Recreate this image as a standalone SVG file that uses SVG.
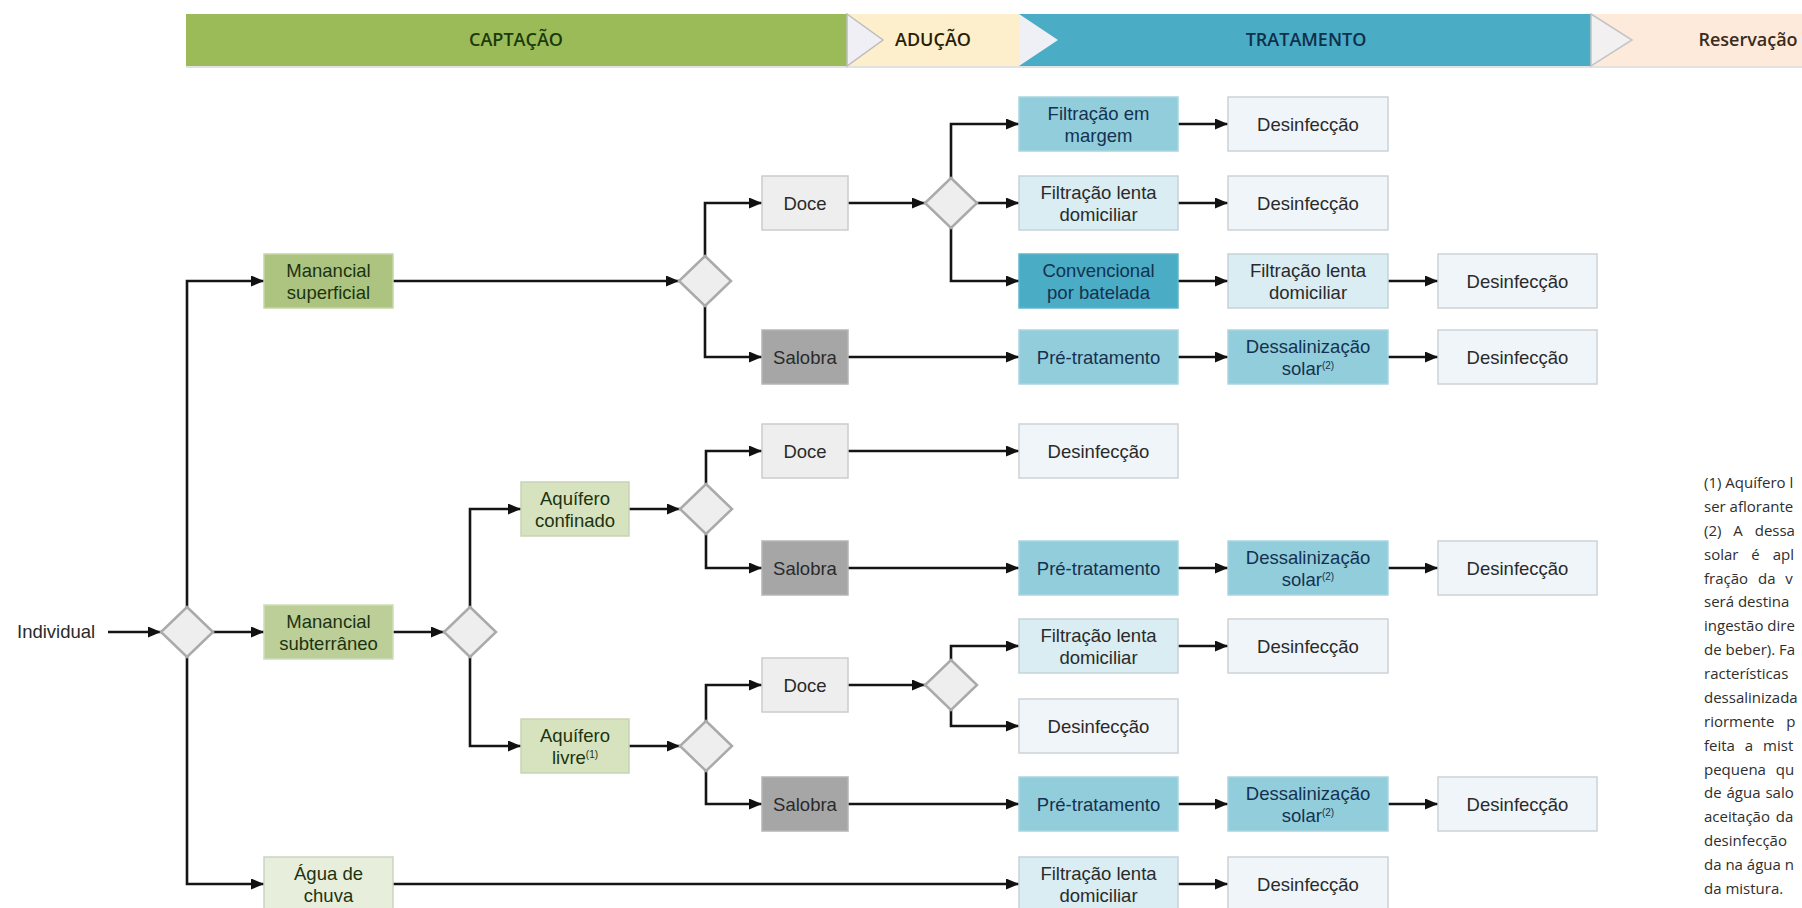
<svg xmlns="http://www.w3.org/2000/svg" width="1802" height="908" viewBox="0 0 1802 908">
<defs>
<marker id="ah" markerWidth="13" markerHeight="11" refX="13" refY="5.5" orient="auto" markerUnits="userSpaceOnUse">
<path d="M0,0 L13,5.5 L0,11 z" fill="#111"/>
</marker>
<style>
text{font-family:"Open Sans","Liberation Sans",sans-serif;}
.hd{font-size:18px;font-weight:600;text-anchor:middle;}
.t{font-family:"Liberation Sans",Arial,sans-serif;font-size:18.5px;text-anchor:middle;fill:#2a2a2a;}
.tg{fill:#1c3310;}
.tb{fill:#14324f;}
.g1{fill:#acc47f;stroke:#c6d6a6;stroke-width:1.5;}
.g2{fill:#bccf99;stroke:#d0ddb9;stroke-width:1.5;}
.g3{fill:#d6e3be;stroke:#c9d3b6;stroke-width:1.5;}
.g4{fill:#e7efdc;stroke:#ccd3c3;stroke-width:1.5;}
.doce{fill:#eeeeee;stroke:#cccccc;stroke-width:1.5;}
.sal{fill:#a6a6a6;stroke:#b5b5b5;stroke-width:1.5;}
.b1{fill:#92cddc;stroke:#a9d5e0;stroke-width:1.5;}
.b2{fill:#d9edf3;stroke:#c3d3da;stroke-width:1.5;}
.b3{fill:#4bacc6;stroke:#62b5cc;stroke-width:1.5;}
.des{fill:#f0f5f9;stroke:#cdd2d6;stroke-width:1.5;}
.dia{fill:#eeeeee;stroke:#aaaaaa;stroke-width:2.5;}
.c{fill:none;stroke:#151515;stroke-width:2.6;marker-end:url(#ah);}
.sup{font-size:10px;}
.fn{font-size:15px;fill:#2e2e2e;}
</style>
</defs>
<rect width="1802" height="908" fill="#ffffff"/>

<g id="header">
<rect x="186" y="16" width="1616" height="52" fill="#e2e2e2"/>
<rect x="186" y="14" width="661" height="52" fill="#9bbb59"/>
<rect x="847" y="14" width="172" height="52" fill="#fdefcc"/>
<polygon points="847,14 883,40 847,66" fill="#efeff5" stroke="#bdbdbd" stroke-width="1.5"/>
<rect x="1019" y="14" width="572" height="52" fill="#4bacc6"/>
<polygon points="1019,14 1058,40 1019,66" fill="#eef0f6"/>
<rect x="1591" y="14" width="211" height="52" fill="#fdeadb"/>
<polygon points="1591,14 1632,40 1591,66" fill="#f3f0f2" stroke="#c4c4c4" stroke-width="1.5"/>
<text class="hd" x="516" y="46" fill="#1b3a0c">CAPTAÇÃO</text>
<text class="hd" x="933" y="46" fill="#2b1d05">ADUÇÃO</text>
<text class="hd" x="1306" y="46" fill="#0f2f4a">TRATAMENTO</text>
<text class="hd" x="1748" y="46" fill="#3a2a20" font-weight="500">Reservação</text>
</g>

<g id="connectors">
<path class="c" d="M108,632 H161"/>
<path class="c" d="M187,607 V281 H264"/>
<path class="c" d="M213,632 H264"/>
<path class="c" d="M187,657 V884 H264"/>
<path class="c" d="M393,281 H679"/>
<path class="c" d="M705,256 V203 H762"/>
<path class="c" d="M705,306 V357 H762"/>
<path class="c" d="M848,203 H925"/>
<path class="c" d="M951,178 V124 H1019"/>
<path class="c" d="M977,203 H1019"/>
<path class="c" d="M951,228 V281 H1019"/>
<path class="c" d="M848,357 H1019"/>
<path class="c" d="M1178,124 H1228"/>
<path class="c" d="M1178,203 H1228"/>
<path class="c" d="M1178,281 H1228"/>
<path class="c" d="M1388,281 H1438"/>
<path class="c" d="M1178,357 H1228"/>
<path class="c" d="M1388,357 H1438"/>
<path class="c" d="M393,632 H444"/>
<path class="c" d="M470,607 V509 H521"/>
<path class="c" d="M470,657 V746 H521"/>
<path class="c" d="M629,509 H680"/>
<path class="c" d="M706,484 V451 H762"/>
<path class="c" d="M706,534 V568 H762"/>
<path class="c" d="M848,451 H1019"/>
<path class="c" d="M848,568 H1019"/>
<path class="c" d="M1178,568 H1228"/>
<path class="c" d="M1388,568 H1438"/>
<path class="c" d="M629,746 H680"/>
<path class="c" d="M706,721 V685 H762"/>
<path class="c" d="M706,771 V804 H762"/>
<path class="c" d="M848,685 H925"/>
<path class="c" d="M951,660 V646 H1019"/>
<path class="c" d="M951,710 V726 H1019"/>
<path class="c" d="M1178,646 H1228"/>
<path class="c" d="M848,804 H1019"/>
<path class="c" d="M1178,804 H1228"/>
<path class="c" d="M1388,804 H1438"/>
<path class="c" d="M393,884 H1019"/>
<path class="c" d="M1178,884 H1228"/>
</g>

<g id="individual"><text class="t" x="17" y="638" style="text-anchor:start">Individual</text></g>

<g id="dec1"><polygon class="dia" points="187,607 213,632 187,657 161,632"/></g>
<g id="dec2"><polygon class="dia" points="705,256 731,281 705,306 679,281"/></g>
<g id="dec3"><polygon class="dia" points="951,178 977,203 951,228 925,203"/></g>
<g id="dec4"><polygon class="dia" points="470,607 496,632 470,657 444,632"/></g>
<g id="dec5"><polygon class="dia" points="706,484 732,509 706,534 680,509"/></g>
<g id="dec6"><polygon class="dia" points="706,721 732,746 706,771 680,746"/></g>
<g id="dec7"><polygon class="dia" points="951,660 977,685 951,710 925,685"/></g>

<g id="manancial-superficial"><rect class="g1" x="264" y="254" width="129" height="54"/><text class="t tg"><tspan x="328.5" y="277">Manancial</tspan><tspan x="328.5" dy="21.5">superficial</tspan></text></g>
<g id="manancial-subterraneo"><rect class="g2" x="264" y="605" width="129" height="54"/><text class="t tg"><tspan x="328.5" y="628">Manancial</tspan><tspan x="328.5" dy="21.5">subterrâneo</tspan></text></g>
<g id="agua-de-chuva"><rect class="g4" x="264" y="857" width="129" height="54"/><text class="t tg"><tspan x="328.5" y="880">Água de</tspan><tspan x="328.5" dy="21.5">chuva</tspan></text></g>
<g id="aquifero-confinado"><rect class="g3" x="521" y="482" width="108" height="54"/><text class="t tg"><tspan x="575" y="505">Aquífero</tspan><tspan x="575" dy="21.5">confinado</tspan></text></g>
<g id="aquifero-livre"><rect class="g3" x="521" y="719" width="108" height="54"/><text class="t tg"><tspan x="575" y="742">Aquífero</tspan><tspan x="575" dy="21.5">livre<tspan class="sup" dy="-6">(1)</tspan></tspan></text></g>

<g id="doce-1"><rect class="doce" x="762" y="176" width="86" height="54"/><text class="t" x="805" y="209.5">Doce</text></g>
<g id="salobra-1"><rect class="sal" x="762" y="330" width="86" height="54"/><text class="t" x="805" y="363.5">Salobra</text></g>
<g id="doce-2"><rect class="doce" x="762" y="424" width="86" height="54"/><text class="t" x="805" y="457.5">Doce</text></g>
<g id="salobra-2"><rect class="sal" x="762" y="541" width="86" height="54"/><text class="t" x="805" y="574.5">Salobra</text></g>
<g id="doce-3"><rect class="doce" x="762" y="658" width="86" height="54"/><text class="t" x="805" y="691.5">Doce</text></g>
<g id="salobra-3"><rect class="sal" x="762" y="777" width="86" height="54"/><text class="t" x="805" y="810.5">Salobra</text></g>

<g id="filtracao-margem"><rect class="b1" x="1019" y="97" width="159" height="54"/><text class="t tb"><tspan x="1098.5" y="120">Filtração em</tspan><tspan x="1098.5" dy="21.5">margem</tspan></text></g>
<g id="filtracao-lenta-1"><rect class="b2" x="1019" y="176" width="159" height="54"/><text class="t"><tspan x="1098.5" y="199">Filtração lenta</tspan><tspan x="1098.5" dy="21.5">domiciliar</tspan></text></g>
<g id="convencional"><rect class="b3" x="1019" y="254" width="159" height="54"/><text class="t tb"><tspan x="1098.5" y="277">Convencional</tspan><tspan x="1098.5" dy="21.5">por batelada</tspan></text></g>
<g id="pre-tratamento-1"><rect class="b1" x="1019" y="330" width="159" height="54"/><text class="t tb" x="1098.5" y="363.5">Pré-tratamento</text></g>
<g id="desinfeccao-e"><rect class="des" x="1019" y="424" width="159" height="54"/><text class="t" x="1098.5" y="457.5">Desinfecção</text></g>
<g id="pre-tratamento-2"><rect class="b1" x="1019" y="541" width="159" height="54"/><text class="t tb" x="1098.5" y="574.5">Pré-tratamento</text></g>
<g id="filtracao-lenta-3"><rect class="b2" x="1019" y="619" width="159" height="54"/><text class="t"><tspan x="1098.5" y="642">Filtração lenta</tspan><tspan x="1098.5" dy="21.5">domiciliar</tspan></text></g>
<g id="desinfeccao-j"><rect class="des" x="1019" y="699" width="159" height="54"/><text class="t" x="1098.5" y="732.5">Desinfecção</text></g>
<g id="pre-tratamento-3"><rect class="b1" x="1019" y="777" width="159" height="54"/><text class="t tb" x="1098.5" y="810.5">Pré-tratamento</text></g>
<g id="filtracao-lenta-4"><rect class="b2" x="1019" y="857" width="159" height="54"/><text class="t"><tspan x="1098.5" y="880">Filtração lenta</tspan><tspan x="1098.5" dy="21.5">domiciliar</tspan></text></g>

<g id="desinfeccao-a"><rect class="des" x="1228" y="97" width="160" height="54"/><text class="t" x="1308" y="130.5">Desinfecção</text></g>
<g id="desinfeccao-b"><rect class="des" x="1228" y="176" width="160" height="54"/><text class="t" x="1308" y="209.5">Desinfecção</text></g>
<g id="filtracao-lenta-2"><rect class="b2" x="1228" y="254" width="160" height="54"/><text class="t"><tspan x="1308" y="277">Filtração lenta</tspan><tspan x="1308" dy="21.5">domiciliar</tspan></text></g>
<g id="dessalinizacao-1"><rect class="b1" x="1228" y="330" width="160" height="54"/><text class="t tb"><tspan x="1308" y="353">Dessalinização</tspan><tspan x="1308" dy="21.5">solar<tspan class="sup" dy="-6">(2)</tspan></tspan></text></g>
<g id="dessalinizacao-2"><rect class="b1" x="1228" y="541" width="160" height="54"/><text class="t tb"><tspan x="1308" y="564">Dessalinização</tspan><tspan x="1308" dy="21.5">solar<tspan class="sup" dy="-6">(2)</tspan></tspan></text></g>
<g id="desinfeccao-h"><rect class="des" x="1228" y="619" width="160" height="54"/><text class="t" x="1308" y="652.5">Desinfecção</text></g>
<g id="dessalinizacao-3"><rect class="b1" x="1228" y="777" width="160" height="54"/><text class="t tb"><tspan x="1308" y="800">Dessalinização</tspan><tspan x="1308" dy="21.5">solar<tspan class="sup" dy="-6">(2)</tspan></tspan></text></g>
<g id="desinfeccao-l"><rect class="des" x="1228" y="857" width="160" height="54"/><text class="t" x="1308" y="890.5">Desinfecção</text></g>

<g id="desinfeccao-c"><rect class="des" x="1438" y="254" width="159" height="54"/><text class="t" x="1517.5" y="287.5">Desinfecção</text></g>
<g id="desinfeccao-d"><rect class="des" x="1438" y="330" width="159" height="54"/><text class="t" x="1517.5" y="363.5">Desinfecção</text></g>
<g id="desinfeccao-g"><rect class="des" x="1438" y="541" width="159" height="54"/><text class="t" x="1517.5" y="574.5">Desinfecção</text></g>
<g id="desinfeccao-k"><rect class="des" x="1438" y="777" width="159" height="54"/><text class="t" x="1517.5" y="810.5">Desinfecção</text></g>

<g id="footnote">
<text class="fn" x="1704" y="488">(1) Aquífero l</text>
<text class="fn" x="1704" y="512">ser aflorante</text>
<text class="fn" x="1704" y="536" word-spacing="8">(2) A dessa</text>
<text class="fn" x="1704" y="560" word-spacing="9">solar é apl</text>
<text class="fn" x="1704" y="584" word-spacing="6">fração da v</text>
<text class="fn" x="1704" y="607">será destina</text>
<text class="fn" x="1704" y="631">ingestão dire</text>
<text class="fn" x="1704" y="655">de beber). Fa</text>
<text class="fn" x="1704" y="679">racterísticas</text>
<text class="fn" x="1704" y="703">dessalinizada</text>
<text class="fn" x="1704" y="727" word-spacing="8">riormente p</text>
<text class="fn" x="1704" y="751" word-spacing="6">feita a mist</text>
<text class="fn" x="1704" y="775" word-spacing="6">pequena qu</text>
<text class="fn" x="1704" y="798" word-spacing="1">de água salo</text>
<text class="fn" x="1704" y="822" word-spacing="2">aceitação da</text>
<text class="fn" x="1704" y="846">desinfecção</text>
<text class="fn" x="1704" y="870">da na água n</text>
<text class="fn" x="1704" y="894">da mistura.</text>
</g>
</svg>
